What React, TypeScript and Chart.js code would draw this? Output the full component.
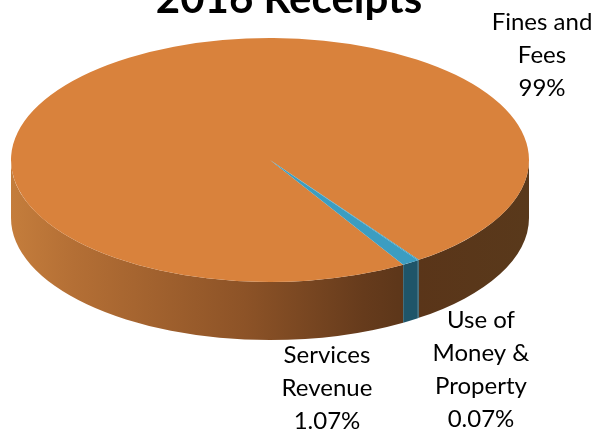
import React, { useEffect, useRef } from 'react';
import { Chart, ArcElement, PieController } from 'chart.js';

Chart.register(ArcElement, PieController);

const titleText = '2016 Receipts';
const categories = ['Fines and Fees', 'Use of Money & Property', 'Services Revenue'];
const values = [98.86, 0.07, 1.07];
const percentLabels = ['99%', '0.07%', '1.07%'];
const labelLines = [['Fines and', 'Fees'], ['Use of', 'Money &', 'Property'], ['Services', 'Revenue']];
const topColors = ['#d9823c', '#3c9dc1', '#3c9dc1'];
const wallColors = ['gradient', '#1f5569', '#1f5569'];

const GEOM = { cx: 270, cy: 160, rx: 259, ry: 122, depth: 58 };
const LABEL_POS = [
  { x: 542, y: 30 },
  { x: 481, y: 328 },
  { x: 327, y: 363 },
];
const LINE_H = 33;
const FONT = 'Lato, "Open Sans", sans-serif';

const pie3d = {
  id: 'pie3d',
  beforeDatasetsDraw(chart: any) {
    const ctx: CanvasRenderingContext2D = chart.ctx;
    const meta = chart.getDatasetMeta(0);
    const arcs = meta.data;
    const { cx, cy, rx, ry, depth } = GEOM;
    const grad = ctx.createLinearGradient(cx - rx, 0, cx + rx, 0);
    grad.addColorStop(0, '#c47d3c');
    grad.addColorStop(0.12, '#b46f35');
    grad.addColorStop(0.45, '#8d5327');
    grad.addColorStop(0.68, '#663b1c');
    grad.addColorStop(0.78, '#5a3519');
    grad.addColorStop(1, '#59391b');
    const TWO_PI = Math.PI * 2;
    arcs.forEach((arc: any, i: number) => {
      const { startAngle, endAngle } = arc.getProps(['startAngle', 'endAngle'], true);
      for (let k = -3; k <= 3; k++) {
        const a = Math.max(startAngle, TWO_PI * k);
        const b = Math.min(endAngle, Math.PI + TWO_PI * k);
        if (b > a) {
          const s = a - TWO_PI * k;
          const e = b - TWO_PI * k;
          ctx.save();
          ctx.beginPath();
          ctx.ellipse(cx, cy, rx, ry, 0, s, e, false);
          ctx.lineTo(cx + rx * Math.cos(e), cy + depth + ry * Math.sin(e));
          ctx.ellipse(cx, cy + depth, rx, ry, 0, e, s, true);
          ctx.closePath();
          ctx.fillStyle = wallColors[i] === 'gradient' ? grad : wallColors[i];
          ctx.fill();
          ctx.restore();
        }
      }
    });
    const a0 = arcs[0];
    const R = a0.outerRadius;
    ctx.save();
    ctx.translate(cx, cy);
    ctx.scale(rx / R, ry / R);
    ctx.translate(-a0.x, -a0.y);
  },
  afterDatasetsDraw(chart: any) {
    chart.ctx.restore();
  },
  afterDraw(chart: any) {
    const ctx: CanvasRenderingContext2D = chart.ctx;
    ctx.save();
    ctx.fillStyle = '#000000';
    ctx.textAlign = 'center';
    ctx.textBaseline = 'alphabetic';
    ctx.font = `bold 42px ${FONT}`;
    ctx.fillText(titleText, 289, 13);
    ctx.font = `24px ${FONT}`;
    categories.forEach((_, i) => {
      const lines = [...labelLines[i], percentLabels[i]];
      const p = LABEL_POS[i];
      lines.forEach((ln, j) => ctx.fillText(ln, p.x, p.y + j * LINE_H));
    });
    ctx.restore();
  },
};

export default function App() {
  const ref = useRef<HTMLCanvasElement | null>(null);
  useEffect(() => {
    document.body.style.margin = '0';
    const chart = new Chart(ref.current as HTMLCanvasElement, {
      type: 'pie',
      data: {
        labels: categories,
        datasets: [
          {
            data: values,
            backgroundColor: topColors,
            borderWidth: 0,
            clip: false as any,
          } as any,
        ],
      },
      options: {
        animation: false,
        responsive: false,
        events: [],
        rotation: 149.05,
        layout: { padding: 0 },
        plugins: { legend: { display: false }, tooltip: { enabled: false } } as any,
      },
      plugins: [pie3d],
    });
    return () => chart.destroy();
  }, []);
  return (
    <div style={{ position: 'fixed', left: 0, top: 0, width: 595, height: 430, background: '#ffffff' }}>
      <canvas ref={ref} width={595} height={430} style={{ width: 595, height: 430 }} />
    </div>
  );
}
